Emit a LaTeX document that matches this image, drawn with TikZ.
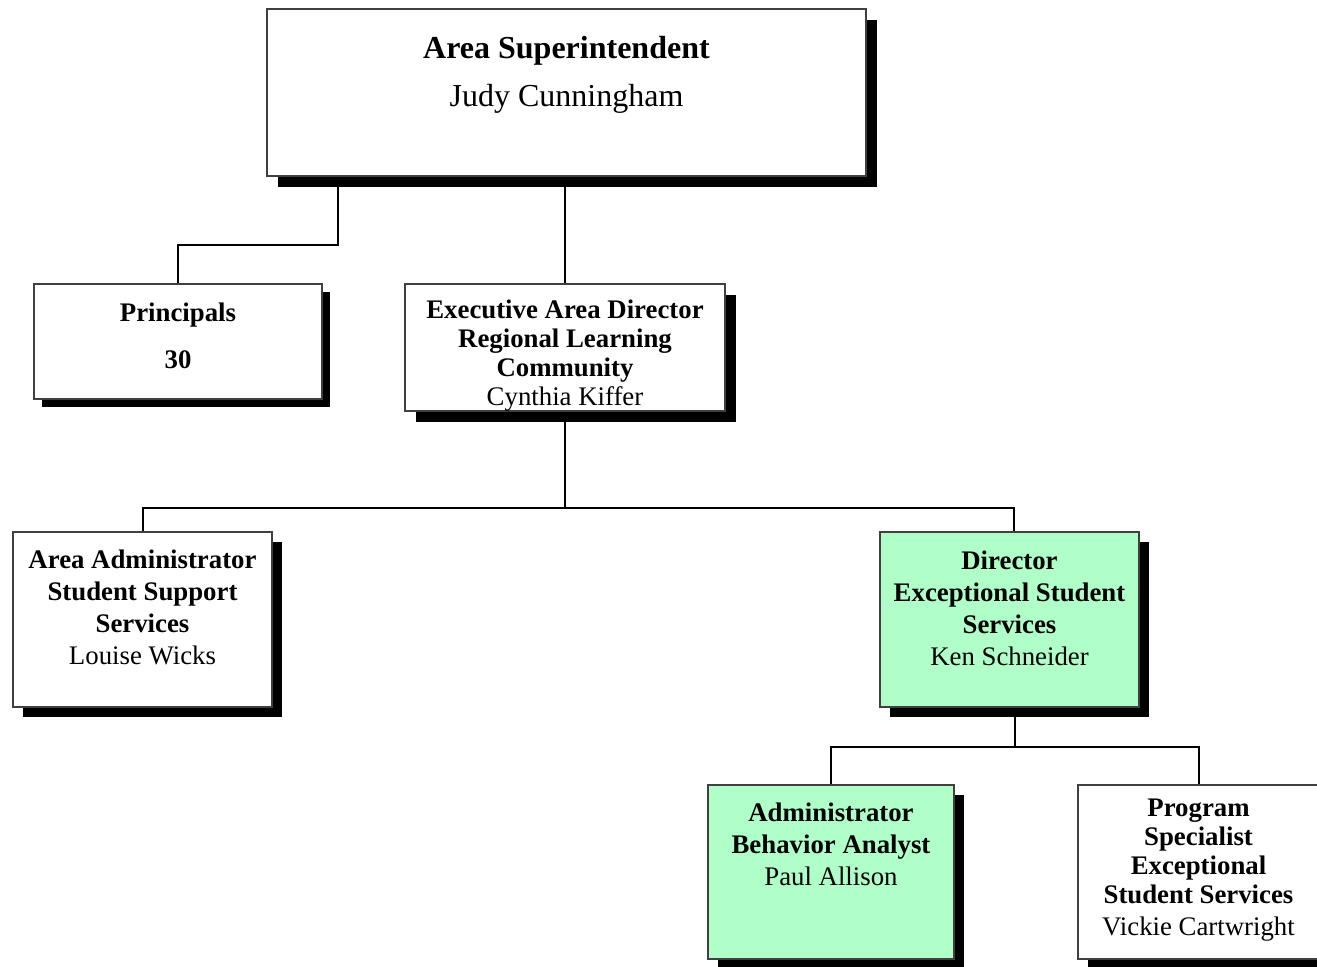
\documentclass[tikz,border=0pt]{standalone}
\usepackage{fontspec}
\setmainfont{Liberation Serif}
\usetikzlibrary{shadows}
\definecolor{esegreen}{RGB}{176,255,200}
\tikzset{
  post/.style={draw=black!75, line width=1pt, fill=white, inner sep=0pt,
    drop shadow={shadow xshift=#1*0.5pt, shadow yshift=-#1*0.5pt,
      fill=black, opacity=1}},
  post/.default=11,
  boxsize/.style 2 args={minimum width=#1*0.5pt, minimum height=#2*0.5pt},
  posttext/.style={anchor=north, align=center, inner sep=0pt,
    font=\fontsize{13.4}{16}\selectfont},
  link/.style={draw=black, line width=1pt}
}
\begin{document}
\begin{tikzpicture}[x=0.5pt,y=-0.5pt]
  \useasboundingbox (0,0) rectangle (1317,966);
  % boxes
  \node[post, boxsize={599}{167}] (super) at (566.5,92.5) {};
  \node[post=8, boxsize={288}{115}] (princ) at (178,341.5) {};
  \node[post, boxsize={320}{127}] (exec) at (565,347.5) {};
  \node[post=10, boxsize={259}{175}] (aa) at (142.5,619.5) {};
  \node[post=10, boxsize={259}{175}, fill=esegreen] (dir) at (1009.5,619.5) {};
  \node[post=10, boxsize={246}{174}, fill=esegreen] (ba) at (831,872) {};
  \node[post=10, boxsize={241}{174}] (ps) at (1198.5,872) {};
  % connectors
  \coordinate (j1) at (338,245);
  \coordinate (j2) at (565,508);
  \coordinate (j3) at (1015,747);
  \draw[link] (super.south -| j1) -- (j1) -| (princ.north);
  \draw[link] (super.south -| exec.north) -- (exec.north);
  \draw[link] (exec.south) -- (j2) -| (aa.north);
  \draw[link] (j2) -| ([xshift=2pt]dir.north);
  \draw[link] (dir.south -| j3) -- (j3) -| (ba.north);
  \draw[link] (j3) -| (ps.north);
  % texts
  \node[posttext, font=\fontsize{16}{19}\selectfont, yshift=-28*0.5pt] (super-t) at (super.north)
    {\textbf{Area Superintendent}\\[5pt]Judy Cunningham};
  \node[posttext, yshift=-19*0.5pt] (princ-t) at (princ.north)
    {\textbf{Principals}\\[7.5pt]\textbf{30}};
  \node[posttext, font=\fontsize{13.4}{14.5}\selectfont, yshift=-16*0.5pt] (exec-t) at (exec.north)
    {\textbf{Executive Area Director}\\\textbf{Regional Learning}\\\textbf{Community}\\Cynthia Kiffer};
  \node[posttext, yshift=-18*0.5pt] (aa-t) at (aa.north)
    {\textbf{Area Administrator}\\\textbf{Student Support}\\\textbf{Services}\\Louise Wicks};
  \node[posttext, yshift=-19*0.5pt] (dir-t) at (dir.north)
    {\textbf{Director}\\\textbf{Exceptional Student}\\\textbf{Services}\\Ken Schneider};
  \node[posttext, yshift=-18*0.5pt] (ba-t) at (ba.north)
    {\textbf{Administrator}\\\textbf{Behavior Analyst}\\Paul Allison};
  \node[posttext, font=\fontsize{13.4}{14.5}\selectfont, yshift=-15*0.5pt] (ps-t) at (ps.north)
    {\textbf{Program}\\\textbf{Specialist}\\\textbf{Exceptional}\\\textbf{Student Services}\\[1.5pt]Vickie Cartwright};
\end{tikzpicture}
\end{document}
